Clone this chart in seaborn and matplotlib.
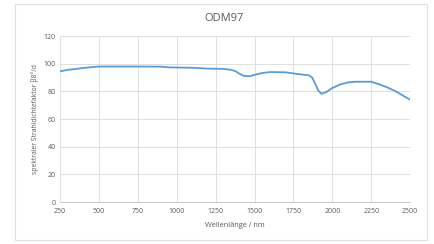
import matplotlib
matplotlib.use("Agg")
import matplotlib.pyplot as plt
import matplotlib.patches as patches
import seaborn as sns
import pandas as pd

# spectral reflectance factor
wavelength = [250, 300, 350, 400, 450, 500, 600, 750, 900, 950, 1100, 1200, 1300,
              1350, 1380, 1400, 1430, 1470, 1500, 1550, 1600, 1700, 1750, 1800,
              1850, 1870, 1890, 1910, 1930, 1960, 2000, 2050, 2100, 2150, 2250,
              2300, 2350, 2400, 2450, 2500]
factor = [94.5, 95.6, 96.2, 97.0, 97.5, 98.0, 98.0, 98.0, 97.9, 97.4, 97.1, 96.5, 96.3,
          95.6, 94.5, 93.0, 91.2, 91.0, 92.0, 93.3, 94.0, 93.8, 93.0, 92.3,
          91.6, 90.0, 85.5, 80.5, 78.3, 79.5, 82.5, 85.0, 86.5, 87.0, 87.0,
          85.2, 83.0, 80.5, 77.2, 74.0]

df = pd.DataFrame({"wl": wavelength, "val": factor})

sns.set_style("white")
plt.rcParams['font.family'] = ['Open Sans', 'DejaVu Sans']

fig = plt.figure(figsize=(4.35, 2.44), dpi=100)
ax = fig.add_axes([0.138, 0.172, 0.805, 0.68])

sns.lineplot(data=df, x="wl", y="val", ax=ax, color="#5B9BD5", linewidth=1.3)

ax.set_xlim(250, 2500)
ax.set_ylim(0, 120)
ax.set_xticks(range(250, 2501, 250))
ax.set_yticks(range(0, 121, 20))
ax.grid(True, color="#D9D9D9", linewidth=0.6)
for s in ["top", "right", "left"]:
    ax.spines[s].set_visible(False)
ax.spines["bottom"].set_color("#BFBFBF")
ax.spines["bottom"].set_linewidth(0.6)
ax.tick_params(axis="both", length=0, labelsize=5, labelcolor="#595959")
ax.tick_params(axis="x", pad=4)
ax.tick_params(axis="y", pad=3)

ax.set_xlabel("Wellenlänge / nm", fontsize=5.3, color="#595959", labelpad=5)
ax.set_ylabel("spektraler Strahldichtefaktor β8°/d", fontsize=4.9, color="#595959", labelpad=3)
fig.text(0.515, 0.925, "ODM97", ha="center", va="center", fontsize=8, color="#595959")

fig.patches.append(patches.Rectangle((0.035, 0.015), 0.947, 0.97, transform=fig.transFigure,
                                     fill=False, edgecolor="#E0E0E0", linewidth=0.8))

fig.savefig("out.png", dpi=100)
